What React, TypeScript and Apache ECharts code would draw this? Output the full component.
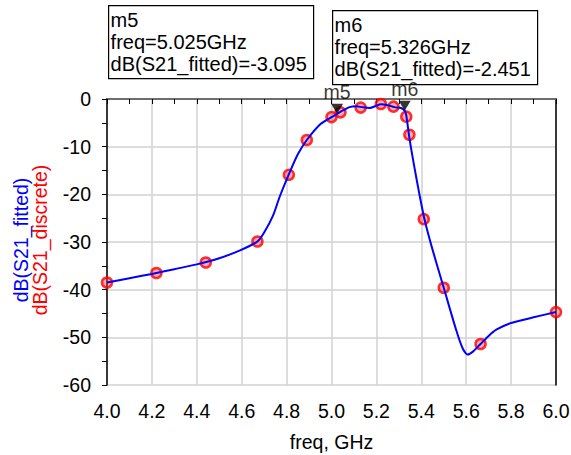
import React, { useEffect, useRef } from "react";
import * as echarts from "echarts";

const freqFit = [4.0, 4.1, 4.2, 4.3, 4.4, 4.5, 4.59, 4.67, 4.7, 4.74, 4.77, 4.81, 4.85, 4.89, 4.95, 5.0, 5.025, 5.055, 5.08, 5.11, 5.14, 5.17, 5.2, 5.22, 5.25, 5.28, 5.31, 5.326, 5.333, 5.347, 5.37, 5.39, 5.415, 5.45, 5.5, 5.555, 5.585, 5.607, 5.63, 5.664, 5.7, 5.734, 5.8, 5.9, 6.0];
const dBFit = [-38.5, -37.6, -36.7, -35.7, -34.7, -33.4, -31.8, -29.9, -28.0, -24.4, -20.4, -15.8, -11.6, -8.6, -5.3, -3.8, -3.1, -2.3, -1.7, -1.5, -1.75, -1.9, -1.4, -1.1, -1.3, -1.7, -1.9, -2.45, -3.4, -8.2, -14.5, -19.6, -25.4, -31.6, -39.6, -48.4, -52.4, -53.6, -53.0, -51.4, -49.7, -48.4, -47.0, -45.8, -44.7];

const freqDisc = [4.0, 4.22, 4.44, 4.67, 4.81, 4.89, 5.0, 5.04, 5.13, 5.22, 5.276, 5.333, 5.347, 5.411, 5.5, 5.664, 6.0];
const dBDisc = [-38.5, -36.5, -34.3, -29.9, -15.9, -8.6, -3.8, -2.8, -1.8, -1.05, -1.6, -3.7, -7.5, -25.2, -39.6, -51.4, -44.7];

const markerNames = ["m5", "m6"];
const markerFreq = [5.025, 5.326];
const markerDB = [-3.095, -2.451];

const FONT = "'Liberation Sans', Arial, sans-serif";

export default function App() {
  const ref = useRef<HTMLDivElement>(null);
  useEffect(() => {
    const chart = echarts.init(ref.current!, null, { renderer: "svg" });
    const fitData = freqFit.map((f, i) => [f, dBFit[i]]);
    const discData = freqDisc.map((f, i) => [f, dBDisc[i]]);
    const mkData = markerFreq.map((f, i) => ({ value: [f, markerDB[i]], name: markerNames[i] }));
    const boxText = (i: number) =>
      `${markerNames[i]}\nfreq=${markerFreq[i].toFixed(3)}GHz\ndB(S21_fitted)=${markerDB[i].toFixed(3)}`;
    chart.setOption({
      animation: false,
      textStyle: { fontFamily: FONT },
      grid: { left: 107, right: 15, top: 99, bottom: 70, containLabel: false, outerBoundsMode: "none" },
      xAxis: [
        {
          type: "value",
          min: 4,
          max: 6,
          interval: 0.2,
          name: "freq, GHz",
          nameLocation: "middle",
          nameGap: 47,
          nameTextStyle: { fontSize: 19.5, color: "#000", fontFamily: FONT },
          axisLine: { lineStyle: { color: "#000", width: 1.5 } },
          axisTick: { show: true, inside: false, length: 5, lineStyle: { color: "#000" } },
          minorTick: { show: true, splitNumber: 2, length: 5, lineStyle: { color: "#000" } },
          axisLabel: {
            fontSize: 19.5,
            color: "#000",
            margin: 16,
            fontFamily: FONT,
            formatter: (v: number) => v.toFixed(1),
          },
          splitLine: { show: true, lineStyle: { color: "#d2d2d2", width: 1.5 } },
        },
        {
          type: "value",
          position: "top",
          min: 4,
          max: 6,
          axisLine: { onZero: false, lineStyle: { color: "#808080", width: 1.5 } },
          axisTick: { show: false },
          axisLabel: { show: false },
          splitLine: { show: false },
        },
      ],
      yAxis: [
        {
          type: "value",
          min: -60,
          max: 0,
          interval: 10,
          axisLine: { show: true, onZero: false, lineStyle: { color: "#000", width: 1.5 } },
          axisTick: { show: true, inside: false, length: 5, lineStyle: { color: "#000" } },
          minorTick: { show: true, splitNumber: 2, length: 5, lineStyle: { color: "#000" } },
          axisLabel: { fontSize: 19.5, color: "#000", margin: 16, fontFamily: FONT },
          splitLine: { show: true, lineStyle: { color: "#d2d2d2", width: 1.5 } },
        },
        {
          type: "value",
          position: "right",
          min: -60,
          max: 0,
          axisLine: { show: true, onZero: false, lineStyle: { color: "#000", width: 1.5 } },
          axisTick: { show: false },
          axisLabel: { show: false },
          splitLine: { show: false },
        },
      ],
      series: [
        {
          type: "line",
          data: fitData,
          smooth: 0.25,
          showSymbol: false,
          lineStyle: { color: "#0000ff", width: 2 },
          z: 3,
        },
        {
          type: "scatter",
          data: discData,
          symbol: "circle",
          symbolSize: 10,
          itemStyle: { color: "rgba(255,60,60,0.55)", borderColor: "#ff0000", borderWidth: 2.5 },
          z: 2,
        },
        {
          type: "scatter",
          data: mkData,
          symbol: "triangle",
          symbolRotate: 180,
          symbolSize: [12, 10],
          symbolOffset: [0, -5],
          itemStyle: { color: "#000" },
          label: {
            show: true,
            position: "top",
            distance: 2,
            formatter: (p: any) => p.name,
            fontSize: 19.5,
            color: "#000",
            fontFamily: FONT,
          },
          z: 5,
        },
      ],
      graphic: [
        {
          type: "group",
          left: 108,
          top: 5,
          children: [
            { type: "rect", shape: { x: 0, y: 0, width: 205, height: 73 }, style: { fill: "#fff", stroke: "#000", lineWidth: 1.2 } },
            { type: "text", x: 2, y: 3, style: { text: boxText(0), font: `20px ${FONT}`, lineHeight: 22, fill: "#000" } },
          ],
        },
        {
          type: "group",
          left: 332,
          top: 10,
          children: [
            { type: "rect", shape: { x: 0, y: 0, width: 205, height: 74 }, style: { fill: "#fff", stroke: "#000", lineWidth: 1.2 } },
            { type: "text", x: 2, y: 3, style: { text: boxText(1), font: `20px ${FONT}`, lineHeight: 22, fill: "#000" } },
          ],
        },
        {
          type: "text",
          x: 21,
          y: 240,
          rotation: Math.PI / 2,
          style: { text: "dB(S21_fitted)", font: `19.5px ${FONT}`, fill: "#0000ff", align: "center", verticalAlign: "middle" },
        },
        {
          type: "text",
          x: 40,
          y: 240,
          rotation: Math.PI / 2,
          style: { text: "dB(S21_discrete)", font: `19.5px ${FONT}`, fill: "#ff0000", align: "center", verticalAlign: "middle" },
        },
      ],
    });
    return () => chart.dispose();
  }, []);
  return <div ref={ref} style={{ width: 571, height: 455, position: "absolute", left: 0, top: 0 }} />;
}
